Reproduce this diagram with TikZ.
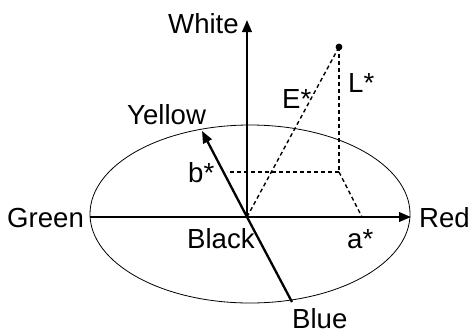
\documentclass[tikz,border=0pt]{standalone}
\usepackage{fontspec}
\setmainfont{Liberation Sans}
\usetikzlibrary{arrows.meta}
\begin{document}
\begin{tikzpicture}[x=1pt,y=-1pt,
  lbl/.style={anchor=base west,inner sep=0pt,font=\fontsize{27.6}{32}\selectfont},
  axis/.style={line width=2.3pt,-{Triangle[length=12pt,width=9.5pt]}},
  dsh/.style={line width=1.4pt,dash pattern=on 4pt off 3pt},
  rim/.style={line width=0.8pt}]
\useasboundingbox (0,0) rectangle (471,333);
\coordinate (O) at (247,217);
\coordinate (W) at (247,20);
\coordinate (Rd) at (411,217);
\coordinate (Gr) at (90,217);
\coordinate (Y) at (202,131);
\coordinate (Bl) at (292,302);
\coordinate (P) at (339,47);
\coordinate (Q) at (339,172);
\coordinate (B) at (227,172);
\coordinate (A) at (362,217);
\draw[rim] (250,214) ellipse [x radius=160, y radius=89];
\draw[axis] (O) -- (W);
\draw[axis] (Gr) -- (Rd);
\draw[line width=2.3pt] (O) -- (Bl);
\draw[axis] (O) -- (Y);
\draw[dsh] (O) -- (P);
\draw[dsh] (P) -- (Q);
\draw[dsh] (Q) -- (B);
\draw[dsh] (Q) -- (A);
\fill (P) circle (3.4pt);
\node[lbl] (tW) at (168,33) {White};
\node[lbl] (tY) at (127,124) {Yellow};
\node[lbl] (tG) at (7,227) {Green};
\node[lbl] (tR) at (419,227) {Red};
\node[lbl] (tK) at (187,248) {Black};
\node[lbl] (ta) at (347,248) {a*};
\node[lbl] (tb) at (188,182) {b*};
\node[lbl] (tE) at (282,108) {E*};
\node[lbl] (tL) at (348,92) {L*};
\node[lbl] (tB) at (292,328) {Blue};
\end{tikzpicture}
\end{document}
